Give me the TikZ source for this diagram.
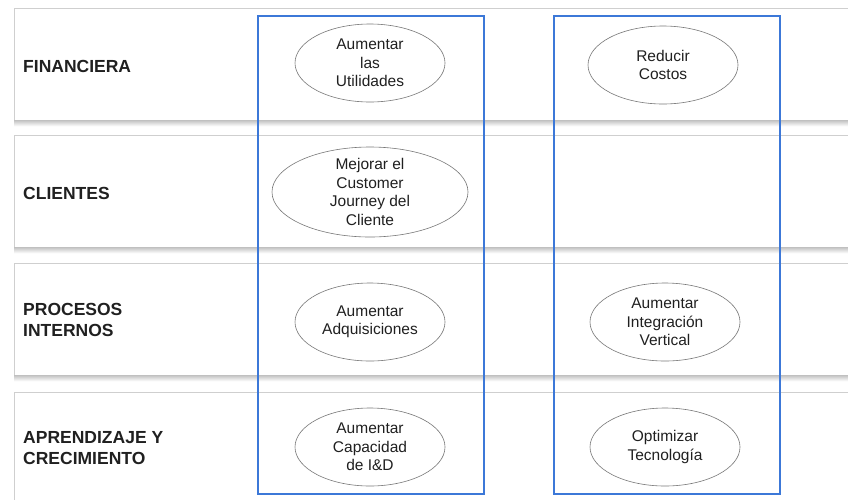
\documentclass[tikz,border=0pt]{standalone}
\usepackage{fontspec}
\setmainfont{Liberation Sans}
\usetikzlibrary{shapes}
\definecolor{colblue}{HTML}{3C78D8}
\definecolor{rowgray}{HTML}{CFCFCF}
\definecolor{ovalgray}{HTML}{777777}
\definecolor{textdark}{HTML}{202020}

\begin{document}
\begin{tikzpicture}[x=1pt, y=-1pt,
  rowbox/.style={draw=rowgray, fill=white, line width=0.8pt, anchor=north west, minimum width=900pt, minimum height=111.5pt, inner sep=0pt},
  rowshadow/.style={top color=black!22, bottom color=white},
  colbox/.style={draw=colblue, line width=2pt, anchor=north west, minimum width=226pt, minimum height=478pt, inner sep=0pt},
  goal/.style={draw=ovalgray, ellipse, line width=0.6pt, minimum width=150pt, minimum height=78pt, inner sep=0pt},
  goaltext/.style={align=center, inner sep=0pt, text=textdark, font=\fontsize{15.5}{18.5}\selectfont},
  persp/.style={anchor=west, align=left, inner sep=0pt, text=textdark, font=\fontsize{17.5}{21.7}\selectfont\bfseries}]
\useasboundingbox (0,0) rectangle (848,499);
\clip (0,0) rectangle (848,499);
\fill[white] (0,0) rectangle (848,499);
% perspectivas
\node[rowbox] (rowfin) at (14,8) {};
\node[rowbox] (rowcli) at (14,135) {};
\node[rowbox] (rowpro) at (14,263) {};
\node[rowbox] (rowapr) at (14,392) {};
\foreach \r in {rowfin,rowcli,rowpro}
  \shade[rowshadow] ([yshift=-0.4pt]\r.south west) rectangle ([yshift=-6pt]\r.south east);
\node[persp] (fin) at (23,66) {FINANCIERA};
\node[persp] (cli) at (23,193) {CLIENTES};
\node[persp] (pro) at (23,320) {PROCESOS\\INTERNOS};
\node[persp] (apr) at (23,448) {APRENDIZAJE Y\\CRECIMIENTO};
% lineas estrategicas
\node[colbox] (colizq) at (257,15) {};
\node[colbox] (colder) at (553,15) {};
% objetivos
\node[goal, label={[goaltext]center:{Aumentar\\las\\Utilidades}}] (utilidades) at (370,63) {};
\node[goal, label={[goaltext]center:{Reducir\\Costos}}] (costos) at (663,65) {};
\node[goal, minimum width=196pt, minimum height=90pt, label={[goaltext]center:{Mejorar el\\Customer\\Journey del\\Cliente}}] (journey) at (370,192) {};
\node[goal, label={[goaltext]center:{Aumentar\\Adquisiciones}}] (adquisiciones) at (370,322) {};
\node[goal, label={[goaltext]center:{Aumentar\\Integración\\Vertical}}] (integracion) at (665,322) {};
\node[goal, label={[goaltext]center:{Aumentar\\Capacidad\\de I\&D}}] (capacidad) at (370,447) {};
\node[goal, label={[goaltext]center:{Optimizar\\Tecnología}}] (tecnologia) at (665,447) {};
\end{tikzpicture}
\end{document}
